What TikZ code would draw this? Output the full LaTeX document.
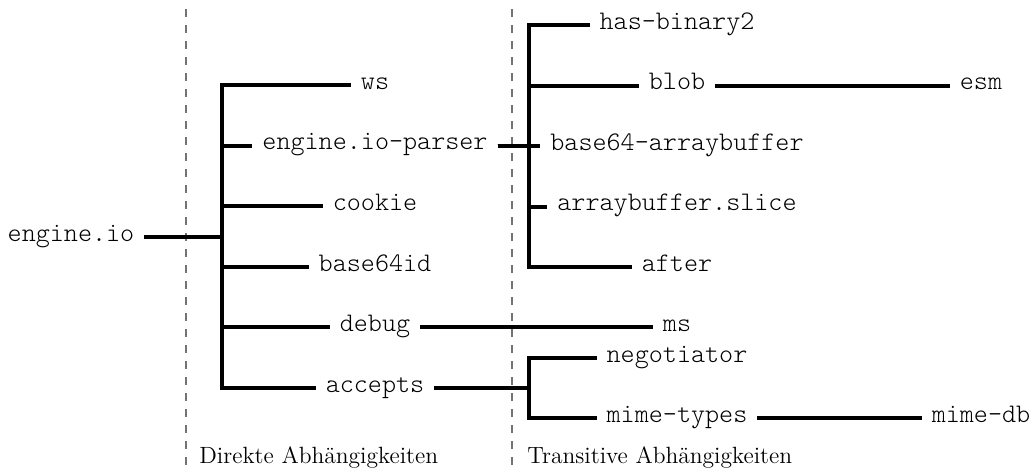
\documentclass[tikz,border=0pt]{standalone}
\usepackage{fontspec}
\newfontfamily\pkgfont{lmmonolt10-regular.otf}
\begin{document}
\begin{tikzpicture}[x=0.5pt,y=-0.5pt]
\tikzset{
  pkg/.style={font=\fontsize{13.4}{15}\selectfont\pkgfont, inner xsep=4.8pt, inner ysep=2pt, anchor=mid},
  edge/.style={line width=2pt, draw=black},
  sepline/.style={draw=black!55, dash pattern=on 4pt off 4pt, line width=0.6pt},
  lbl/.style={font=\fontsize{11.75}{14}\selectfont, inner sep=0pt, anchor=base west}
}
\useasboundingbox (0,0) rectangle (1033,468);
% separators
\draw[sepline] (186,9) -- (186,468);
\draw[sepline] (512,9) -- (512,468);
% nodes
\node[pkg] (root) at (71,237) {engine.io};
\node[pkg] (ws) at (375,85) {ws};
\node[pkg] (parser) at (375,145.6) {engine.io-parser};
\node[pkg] (cookie) at (375,206.2) {cookie};
\node[pkg] (b64id) at (375,266.8) {base64id};
\node[pkg] (debug) at (375,327.4) {debug};
\node[pkg] (accepts) at (375,388) {accepts};
\node[pkg] (hb2) at (677,25) {has-binary2};
\node[pkg] (blob) at (677,85.5) {blob};
\node[pkg] (b64ab) at (677,146) {base64-arraybuffer};
\node[pkg] (abs) at (677,206.5) {arraybuffer.slice};
\node[pkg] (after) at (677,267) {after};
\node[pkg] (ms) at (677,327.4) {ms};
\node[pkg] (neg) at (677,357.7) {negotiator};
\node[pkg] (mt) at (677,418.3) {mime-types};
\node[pkg] (esm) at (981,85.5) {esm};
\node[pkg] (mdb) at (981,418.3) {mime-db};
% branch points
\coordinate (t1) at (222,237);
\coordinate (t2) at (528.5,145.6);
\coordinate (t3) at (528.5,388);
% edges
\foreach \c in {ws,parser,cookie,b64id,debug,accepts}
  \draw[edge] (root.mid east) -- (t1) |- (\c.mid west);
\foreach \c in {hb2,blob,b64ab,abs,after}
  \draw[edge] (parser.mid east) -- (t2) |- (\c.mid west);
\foreach \c in {neg,mt}
  \draw[edge] (accepts.mid east) -- (t3) |- (\c.mid west);
\draw[edge] (debug.mid east) -- (ms.mid west);
\draw[edge] (blob.mid east) -- (esm.mid west);
\draw[edge] (mt.mid east) -- (mdb.mid west);
% labels
\node[lbl] (l1) at (199,463) {Direkte Abhängigkeiten};
\node[lbl] (l2) at (527,463) {Transitive Abhängigkeiten};
\end{tikzpicture}
\end{document}
